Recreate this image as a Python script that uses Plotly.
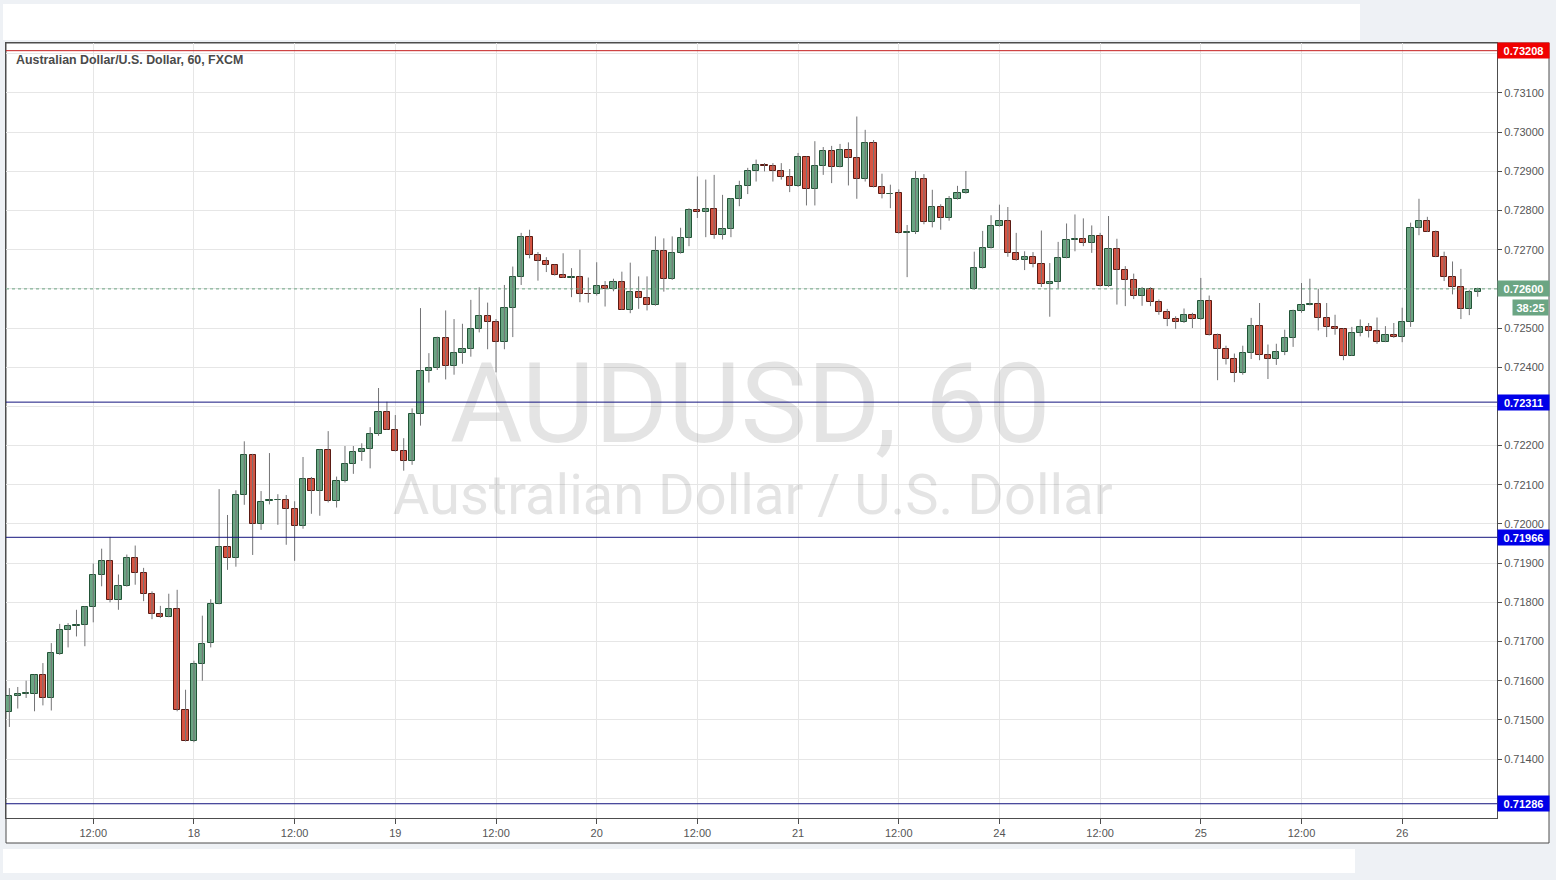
import plotly.graph_objects as go

# ---------------- data (AUD/USD, 60 min candles) ----------------
opens = [0.71520, 0.71562, 0.71567, 0.71567, 0.71614, 0.71556, 0.71669, 0.71729, 0.71740, 0.71741,
         0.71788, 0.71870, 0.71906, 0.71806, 0.71842, 0.71913, 0.71875, 0.71821, 0.71770, 0.71763,
         0.71783, 0.71524, 0.71446, 0.71643, 0.71695, 0.71797, 0.71940, 0.71914, 0.72073, 0.72177,
         0.71999, 0.72058, 0.72060, 0.72060, 0.72037, 0.71996, 0.72116, 0.72083, 0.72190, 0.72059,
         0.72109, 0.72154, 0.72185, 0.72191, 0.72229, 0.72285, 0.72241, 0.72186, 0.72160, 0.72280,
         0.72391, 0.72397, 0.72474, 0.72404, 0.72436, 0.72446, 0.72497, 0.72532, 0.72515, 0.72464,
         0.72551, 0.72630, 0.72732, 0.72687, 0.72671, 0.72661, 0.72636, 0.72629, 0.72630, 0.72588,
         0.72587, 0.72607, 0.72600, 0.72617, 0.72547, 0.72592, 0.72577, 0.72559, 0.72697, 0.72625,
         0.72691, 0.72730, 0.72801, 0.72797, 0.72804, 0.72738, 0.72753, 0.72829, 0.72863, 0.72901,
         0.72916, 0.72914, 0.72901, 0.72886, 0.72863, 0.72937, 0.72855, 0.72913, 0.72951, 0.72911,
         0.72954, 0.72934, 0.72880, 0.72972, 0.72860, 0.72842, 0.72844, 0.72742, 0.72744, 0.72880,
         0.72770, 0.72809, 0.72780, 0.72829, 0.72844, 0.72599, 0.72653, 0.72704, 0.72760, 0.72774,
         0.72692, 0.72673, 0.72682, 0.72664, 0.72613, 0.72618, 0.72679, 0.72725, 0.72728, 0.72717,
         0.72736, 0.72607, 0.72702, 0.72647, 0.72624, 0.72581, 0.72600, 0.72567, 0.72541, 0.72524,
         0.72516, 0.72534, 0.72522, 0.72570, 0.72482, 0.72447, 0.72421, 0.72386, 0.72437, 0.72506,
         0.72431, 0.72421, 0.72439, 0.72475, 0.72544, 0.72559, 0.72562, 0.72526, 0.72503, 0.72498,
         0.72430, 0.72488, 0.72503, 0.72493, 0.72465, 0.72483, 0.72477, 0.72516, 0.72756, 0.72774,
         0.72746, 0.72682, 0.72631, 0.72604, 0.72549, 0.72592]
highs = [0.71581, 0.71584, 0.71600, 0.71616, 0.71645, 0.71696, 0.71745, 0.71747, 0.71781, 0.71790,
         0.71899, 0.71937, 0.71967, 0.71871, 0.71922, 0.71945, 0.71888, 0.71828, 0.71791, 0.71822,
         0.71832, 0.71577, 0.71651, 0.71766, 0.71808, 0.72089, 0.72023, 0.72086, 0.72211, 0.72179,
         0.72084, 0.72181, 0.72076, 0.72074, 0.72058, 0.72171, 0.72120, 0.72190, 0.72237, 0.72121,
         0.72199, 0.72199, 0.72206, 0.72247, 0.72347, 0.72312, 0.72278, 0.72219, 0.72295, 0.72551,
         0.72436, 0.72478, 0.72545, 0.72523, 0.72511, 0.72572, 0.72604, 0.72565, 0.72523, 0.72610,
         0.72657, 0.72743, 0.72751, 0.72694, 0.72681, 0.72662, 0.72691, 0.72653, 0.72700, 0.72629,
         0.72668, 0.72620, 0.72626, 0.72644, 0.72667, 0.72632, 0.72632, 0.72734, 0.72729, 0.72734,
         0.72756, 0.72806, 0.72887, 0.72879, 0.72891, 0.72840, 0.72832, 0.72876, 0.72909, 0.72930,
         0.72921, 0.72921, 0.72921, 0.72906, 0.72947, 0.72938, 0.72977, 0.72962, 0.72965, 0.72970,
         0.72974, 0.73040, 0.73006, 0.72980, 0.72894, 0.72866, 0.72854, 0.72763, 0.72901, 0.72893,
         0.72853, 0.72816, 0.72837, 0.72863, 0.72901, 0.72695, 0.72748, 0.72788, 0.72815, 0.72809,
         0.72743, 0.72696, 0.72694, 0.72749, 0.72666, 0.72720, 0.72767, 0.72790, 0.72780, 0.72762,
         0.72743, 0.72786, 0.72728, 0.72658, 0.72639, 0.72605, 0.72604, 0.72573, 0.72549, 0.72530,
         0.72550, 0.72539, 0.72628, 0.72583, 0.72486, 0.72455, 0.72435, 0.72455, 0.72526, 0.72564,
         0.72458, 0.72460, 0.72496, 0.72547, 0.72615, 0.72626, 0.72600, 0.72564, 0.72534, 0.72500,
         0.72503, 0.72522, 0.72513, 0.72527, 0.72505, 0.72513, 0.72552, 0.72769, 0.72830, 0.72784,
         0.72749, 0.72695, 0.72670, 0.72651, 0.72598, 0.72603]
lows = [0.71482, 0.71529, 0.71556, 0.71522, 0.71537, 0.71524, 0.71666, 0.71685, 0.71713, 0.71688,
        0.71749, 0.71841, 0.71800, 0.71781, 0.71840, 0.71845, 0.71803, 0.71757, 0.71760, 0.71762,
        0.71522, 0.71445, 0.71443, 0.71600, 0.71685, 0.71795, 0.71883, 0.71891, 0.72049, 0.71921,
        0.71985, 0.72050, 0.71998, 0.71947, 0.71906, 0.71988, 0.72026, 0.72021, 0.72055, 0.72042,
        0.72106, 0.72128, 0.72161, 0.72142, 0.72225, 0.72240, 0.72185, 0.72136, 0.72151, 0.72251,
        0.72361, 0.72393, 0.72369, 0.72381, 0.72409, 0.72427, 0.72489, 0.72446, 0.72387, 0.72446,
        0.72477, 0.72610, 0.72678, 0.72621, 0.72643, 0.72634, 0.72628, 0.72579, 0.72566, 0.72565,
        0.72583, 0.72555, 0.72594, 0.72547, 0.72538, 0.72549, 0.72545, 0.72557, 0.72593, 0.72623,
        0.72690, 0.72709, 0.72781, 0.72732, 0.72728, 0.72726, 0.72732, 0.72811, 0.72842, 0.72874,
        0.72900, 0.72874, 0.72879, 0.72847, 0.72860, 0.72813, 0.72813, 0.72891, 0.72870, 0.72910,
        0.72864, 0.72830, 0.72874, 0.72859, 0.72831, 0.72806, 0.72741, 0.72630, 0.72740, 0.72765,
        0.72757, 0.72751, 0.72774, 0.72828, 0.72843, 0.72598, 0.72652, 0.72703, 0.72759, 0.72682,
        0.72672, 0.72648, 0.72655, 0.72605, 0.72529, 0.72601, 0.72678, 0.72696, 0.72709, 0.72692,
        0.72606, 0.72605, 0.72560, 0.72556, 0.72574, 0.72557, 0.72556, 0.72534, 0.72505, 0.72498,
        0.72513, 0.72500, 0.72521, 0.72481, 0.72367, 0.72407, 0.72362, 0.72381, 0.72421, 0.72418,
        0.72370, 0.72406, 0.72431, 0.72452, 0.72539, 0.72558, 0.72494, 0.72477, 0.72483, 0.72418,
        0.72429, 0.72479, 0.72476, 0.72460, 0.72464, 0.72475, 0.72464, 0.72503, 0.72737, 0.72745,
        0.72681, 0.72620, 0.72586, 0.72523, 0.72533, 0.72580]
closes = [0.71560, 0.71567, 0.71568, 0.71614, 0.71556, 0.71671, 0.71729, 0.71740, 0.71742, 0.71788,
          0.71870, 0.71906, 0.71806, 0.71842, 0.71913, 0.71875, 0.71821, 0.71770, 0.71763, 0.71783,
          0.71524, 0.71446, 0.71643, 0.71694, 0.71797, 0.71940, 0.71914, 0.72073, 0.72177, 0.71999,
          0.72057, 0.72060, 0.72061, 0.72037, 0.71996, 0.72116, 0.72083, 0.72190, 0.72059, 0.72109,
          0.72154, 0.72185, 0.72191, 0.72229, 0.72285, 0.72241, 0.72186, 0.72160, 0.72282, 0.72391,
          0.72397, 0.72474, 0.72404, 0.72436, 0.72446, 0.72497, 0.72532, 0.72515, 0.72464, 0.72551,
          0.72630, 0.72732, 0.72687, 0.72671, 0.72661, 0.72636, 0.72629, 0.72630, 0.72587, 0.72587,
          0.72607, 0.72600, 0.72617, 0.72547, 0.72592, 0.72577, 0.72559, 0.72697, 0.72625, 0.72691,
          0.72730, 0.72801, 0.72797, 0.72804, 0.72738, 0.72753, 0.72829, 0.72863, 0.72901, 0.72916,
          0.72914, 0.72901, 0.72886, 0.72863, 0.72937, 0.72855, 0.72913, 0.72951, 0.72911, 0.72954,
          0.72934, 0.72880, 0.72972, 0.72860, 0.72842, 0.72843, 0.72742, 0.72744, 0.72880, 0.72770,
          0.72809, 0.72780, 0.72829, 0.72844, 0.72852, 0.72653, 0.72704, 0.72760, 0.72774, 0.72692,
          0.72673, 0.72682, 0.72664, 0.72613, 0.72618, 0.72679, 0.72725, 0.72727, 0.72717, 0.72736,
          0.72607, 0.72702, 0.72647, 0.72624, 0.72581, 0.72600, 0.72567, 0.72541, 0.72524, 0.72516,
          0.72534, 0.72522, 0.72570, 0.72482, 0.72447, 0.72421, 0.72386, 0.72437, 0.72506, 0.72431,
          0.72421, 0.72439, 0.72475, 0.72544, 0.72559, 0.72562, 0.72526, 0.72503, 0.72498, 0.72430,
          0.72488, 0.72503, 0.72493, 0.72465, 0.72483, 0.72477, 0.72516, 0.72756, 0.72774, 0.72746,
          0.72682, 0.72631, 0.72604, 0.72549, 0.72592, 0.72600]

# time axis ticks (bar index -> label); weekend bars are collapsed
tick_positions = [10, 22, 34, 46, 58, 70, 82, 94, 106, 118, 130, 142, 154, 166]
tick_labels = ["12:00", "18", "12:00", "19", "12:00", "20", "12:00", "21", "12:00", "24",
               "12:00", "25", "12:00", "26"]

# horizontal levels
level_prices = [0.73208, 0.72311, 0.71966, 0.71286]
level_line_colors = ["#c41c1c", "#14147e", "#14147e", "#14147e"]
level_box_colors = ["#f00000", "#0000e8", "#0000e8", "#0000e8"]
last_price = 0.72600
countdown = "38:25"

title_text = "Australian Dollar/U.S. Dollar, 60, FXCM"
watermark_main = "AUDUSD, 60"
watermark_sub = "Australian Dollar / U.S. Dollar"

# ---------------- styling ----------------
W, H = 1556, 880
ML, MR, MT, MB = 6, 59, 43, 62
PW, PH = W - ML - MR, H - MT - MB
UP_FILL, UP_LINE = "#6ba583", "#225437"
DN_FILL, DN_LINE = "#d75442", "#5b1a13"
WICK = "#737375"
GRID = "#e6e6e6"
FRAME = "#4d4d4d"
TXT = "#555555"
BG = "#eef1f5"
FONT = "Liberation Sans, Arial, sans-serif"
Y_MIN, Y_MAX = 0.712496, 0.732276


def px_x(p):
    return (p - ML) / PW


def px_y(p):
    return (H - MB - p) / PH


n = len(opens)
idx = list(range(n))

# price ticks every 0.001; labels hidden where a level box covers them
price_ticks = [round(0.713 + 0.001 * k, 3) for k in range(20)]
price_text = []
for t in price_ticks:
    covered = any(abs(t - p) < 0.00025 for p in level_prices)
    price_text.append("" if covered else f"{t:.5f}")

fig = go.Figure()

# watermark (below candles)
fig.add_trace(go.Scatter(
    x=[88.3], y=[0.72282], mode="text", text=[watermark_main],
    textfont=dict(family="Roboto, Liberation Sans, sans-serif", size=112, color="rgba(90,90,90,0.16)"),
    textposition="middle center", hoverinfo="skip", showlegend=False))
fig.add_trace(go.Scatter(
    x=[88.6], y=[0.72060], mode="text", text=[watermark_sub],
    textfont=dict(family="Roboto, Liberation Sans, sans-serif", size=56, color="rgba(90,90,90,0.16)"),
    textposition="middle center", hoverinfo="skip", showlegend=False))

# wicks
wx, wy = [], []
for i in idx:
    wx += [i, i, None]
    wy += [lows[i], highs[i], None]
fig.add_trace(go.Scatter(x=wx, y=wy, mode="lines", line=dict(color=WICK, width=1),
                         hoverinfo="skip", showlegend=False))

# bodies
bases, heights, fills, borders = [], [], [], []
for o, c in zip(opens, closes):
    bases.append(min(o, c))
    heights.append(max(abs(c - o), 0.000012))
    up = c >= o
    fills.append(UP_FILL if up else DN_FILL)
    borders.append(UP_LINE if up else DN_LINE)
fig.add_trace(go.Bar(x=idx, y=heights, base=bases, width=0.74,
                     marker=dict(color=fills, line=dict(color=borders, width=1)),
                     hoverinfo="skip", showlegend=False))

shapes = []
# page panels
shapes.append(dict(type="rect", xref="paper", yref="paper", layer="below",
                   x0=px_x(3), x1=px_x(1360), y0=px_y(40), y1=px_y(4),
                   fillcolor="white", line=dict(width=0)))
shapes.append(dict(type="rect", xref="paper", yref="paper", layer="below",
                   x0=px_x(3), x1=px_x(1355), y0=px_y(873), y1=px_y(849),
                   fillcolor="white", line=dict(width=0)))
shapes.append(dict(type="rect", xref="paper", yref="paper", layer="below",
                   x0=px_x(6), x1=px_x(1549), y0=px_y(843), y1=px_y(43),
                   fillcolor="white", line=dict(color=FRAME, width=1)))

# level lines
for p, col in zip(level_prices, level_line_colors):
    shapes.append(dict(type="line", xref="paper", yref="y", x0=0, x1=1, y0=p, y1=p,
                       line=dict(color=col, width=1)))
shapes.append(dict(type="line", xref="paper", yref="y", x0=0, x1=1, y0=last_price, y1=last_price,
                   line=dict(color=UP_FILL, width=1, dash="dot")))

annotations = []
annotations.append(dict(xref="paper", yref="paper", x=px_x(14), y=px_y(60),
                        xanchor="left", yanchor="middle", showarrow=False, text=title_text,
                        font=dict(family=FONT, size=12.4, color="#4a4a4a", weight="bold")))
for p, col in zip(level_prices, level_box_colors):
    annotations.append(dict(xref="paper", yref="y", x=1, y=p, xanchor="left", yanchor="middle",
                            showarrow=False, text=f"{p:.5f}", bgcolor=col, borderpad=2,
                            width=47, height=11, align="center",
                            font=dict(family=FONT, size=11, color="white", weight="bold")))
annotations.append(dict(xref="paper", yref="y", x=1, y=last_price, xanchor="left", yanchor="middle",
                        showarrow=False, text=f"{last_price:.5f}", bgcolor=UP_FILL, borderpad=2,
                        width=47, height=11, align="center",
                        font=dict(family=FONT, size=11, color="white", weight="bold")))
annotations.append(dict(xref="paper", yref="y", x=px_x(1549), y=last_price, xanchor="right",
                        yanchor="middle", yshift=-19, showarrow=False, text=countdown,
                        bgcolor=UP_FILL, borderpad=2, width=31, height=11, align="center",
                        font=dict(family=FONT, size=11, color="white", weight="bold")))

fig.update_layout(
    width=W, height=H, margin=dict(l=ML, r=MR, t=MT, b=MB, pad=0),
    paper_bgcolor=BG, plot_bgcolor="white", showlegend=False, bargap=0,
    shapes=shapes, annotations=annotations,
    font=dict(family=FONT, size=11, color=TXT),
    xaxis=dict(range=[-0.4, 177.3], tickmode="array", tickvals=tick_positions, ticktext=tick_labels,
               showgrid=True, gridcolor=GRID, gridwidth=1, zeroline=False,
               showline=True, linecolor=FRAME, linewidth=1, mirror=True,
               ticks="outside", ticklen=5, tickcolor=FRAME,
               tickfont=dict(family=FONT, size=11, color=TXT)),
    yaxis=dict(range=[Y_MIN, Y_MAX], side="right", tickmode="array",
               tickvals=price_ticks, ticktext=price_text,
               showgrid=True, gridcolor=GRID, gridwidth=1, zeroline=False,
               showline=True, linecolor=FRAME, linewidth=1, mirror=True,
               ticks="outside", ticklen=4, tickcolor=FRAME,
               tickfont=dict(family=FONT, size=11, color=TXT)),
)

fig.write_html(
    "out.html",
    config={"displayModeBar": False},
    post_script="document.body.style.margin='0px';document.body.style.overflow='hidden';"
                "document.body.style.background='" + BG + "';",
)
